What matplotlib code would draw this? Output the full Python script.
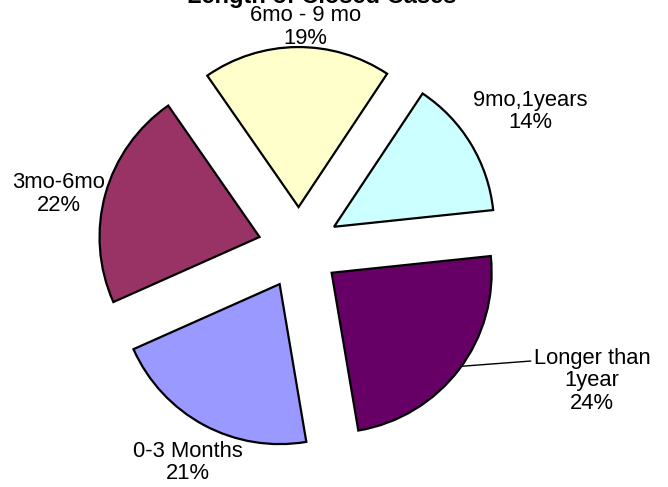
import numpy as np
import matplotlib
matplotlib.use('Agg')
import matplotlib.pyplot as plt

plt.rcParams['font.family'] = ['Liberation Sans', 'DejaVu Sans']

# dados do grafico
categorias = ['0-3 Months', '3mo-6mo', '6mo - 9 mo', '9mo,1years', 'Longer than\n1year']
valores = [21, 22, 19, 14, 24]
cores = ['#9999FF', '#993366', '#FFFFCC', '#CCFFFF', '#660066']
titulo = 'Length of Closed Cases'

# posicao dos rotulos: distancia ao centro (raios) e desvio do angulo medio (graus)
dist_rotulo = [1.51, 1.54, 1.38, 1.68, 2.01]
desvio_ang = [0.9, 3.0, -2.2, -0.7, 12.8]

fig = plt.figure(figsize=(6.68, 4.87), dpi=100)
# centro da pizza em (299, 248) px, raio 160 px
R = 160
ax = fig.add_axes([(299 - 1.5 * R) / 668, (487 - 248 - 1.5 * R) / 487, 3 * R / 668, 3 * R / 487])

wedges, _ = ax.pie(valores, colors=cores, explode=[0.256] * 5, startangle=-80.4,
                   counterclock=False, radius=1.0,
                   wedgeprops=dict(edgecolor='black', linewidth=1.6))
ax.set_xlim(-1.5, 1.5)
ax.set_ylim(-1.5, 1.5)
ax.set_aspect('equal')
ax.axis('off')

total = sum(valores)
for w, cat, v, d, da in zip(wedges, categorias, valores, dist_rotulo, desvio_ang):
    meio = np.deg2rad((w.theta1 + w.theta2) / 2)
    ang = meio + np.deg2rad(da)
    txt = '%s\n%d%%' % (cat, round(100 * v / total))
    pos = (d * np.cos(ang), d * np.sin(ang))
    if cat.startswith('Longer'):
        # linha guia do arco ate o rotulo
        cx, cy = w.center
        pa = (cx + np.cos(meio + 0.025), cy + np.sin(meio + 0.025))
        ax.annotate(txt, xy=pa, xytext=pos, ha='center', va='center',
                    fontsize=15.8, linespacing=1.1,
                    arrowprops=dict(arrowstyle='-', color='black', lw=1,
                                    relpos=(-0.02, 0.8), shrinkA=0, shrinkB=0))
    else:
        ax.text(pos[0], pos[1], txt, ha='center', va='center',
                fontsize=15.8, linespacing=1.1)

# titulo cortado no topo, como no original
fig.text(322 / 668, 1 - 3 / 487, titulo, ha='center', va='baseline',
         fontsize=17, fontweight='bold')

fig.savefig('out.png', dpi=100)
